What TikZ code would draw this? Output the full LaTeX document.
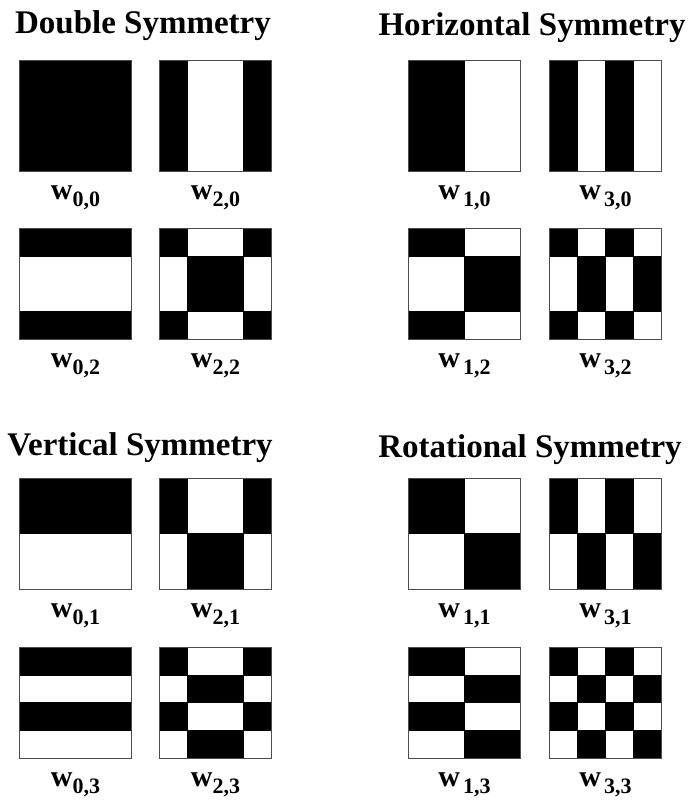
\documentclass[tikz,border=0pt]{standalone}
\usepackage{fontspec}
\setmainfont{Liberation Serif}
\usetikzlibrary{calc}

% 2-D Walsh basis functions w_{i,j} on a 4x4 grid (sequency order)
\def\wal{{1,1,1,1, 1,1,-1,-1, 1,-1,-1,1, 1,-1,1,-1}}

% #1 node name, #2 i (horizontal index), #3 j (vertical index), #4 x, #5 y of top-left corner
\newcommand\walshsq[5]{%
  \foreach \n in {0,...,3}{%
    \foreach \m in {0,...,3}{%
      \pgfmathparse{\wal[4*#2+\n]*\wal[4*#3+\m]}%
      \ifdim\pgfmathresult pt>0pt
        \filldraw[cell] (#4+28*\n,#5+27.75*\m) rectangle ++(28,27.75);
      \fi
    }%
  }%
  \node[frame, anchor=north west] (#1) at (#4,#5) {};
}

% label w_{i,j}
\newcommand\labw[2]{{\fontsize{30}{30}\selectfont\bfseries w}\ifodd#1\kern3pt\fi
  \raisebox{-7pt}{\fontsize{22}{22}\selectfont\bfseries #1,#2}}

\begin{document}
\begin{tikzpicture}[x=1pt,y=-1pt,
  cell/.style={fill=black, draw=black, line width=0.3pt},
  frame/.style={draw=black!70, line width=0.9pt, inner sep=0pt,
    minimum width=112pt, minimum height=111pt},
  title/.style={font=\fontsize{33}{33}\selectfont\bfseries, anchor=base, inner sep=0pt},
  lab/.style={anchor=base, inner sep=0pt}
]
\useasboundingbox (0,0) rectangle (690,804);

% group headings
\node[title] (tdouble) at (143,33) {Double Symmetry};
\node[title] (thoriz)  at (532,35) {Horizontal Symmetry};
\node[title] (tvert)   at (140,455) {Vertical Symmetry};
\node[title] (trot)    at (530,457) {Rotational Symmetry};

% basis images and their labels
\foreach \i/\x in {0/19,2/159,1/408,3/549}{%
  \foreach \j/\y in {0/60,2/228,1/478,3/647}{%
    \walshsq{s\i\j}{\i}{\j}{\x}{\y}
    \node[lab] (l\i\j) at ($(s\i\j.south)+(0,28)$) {\labw{\i}{\j}};
  }%
}
\end{tikzpicture}
\end{document}
